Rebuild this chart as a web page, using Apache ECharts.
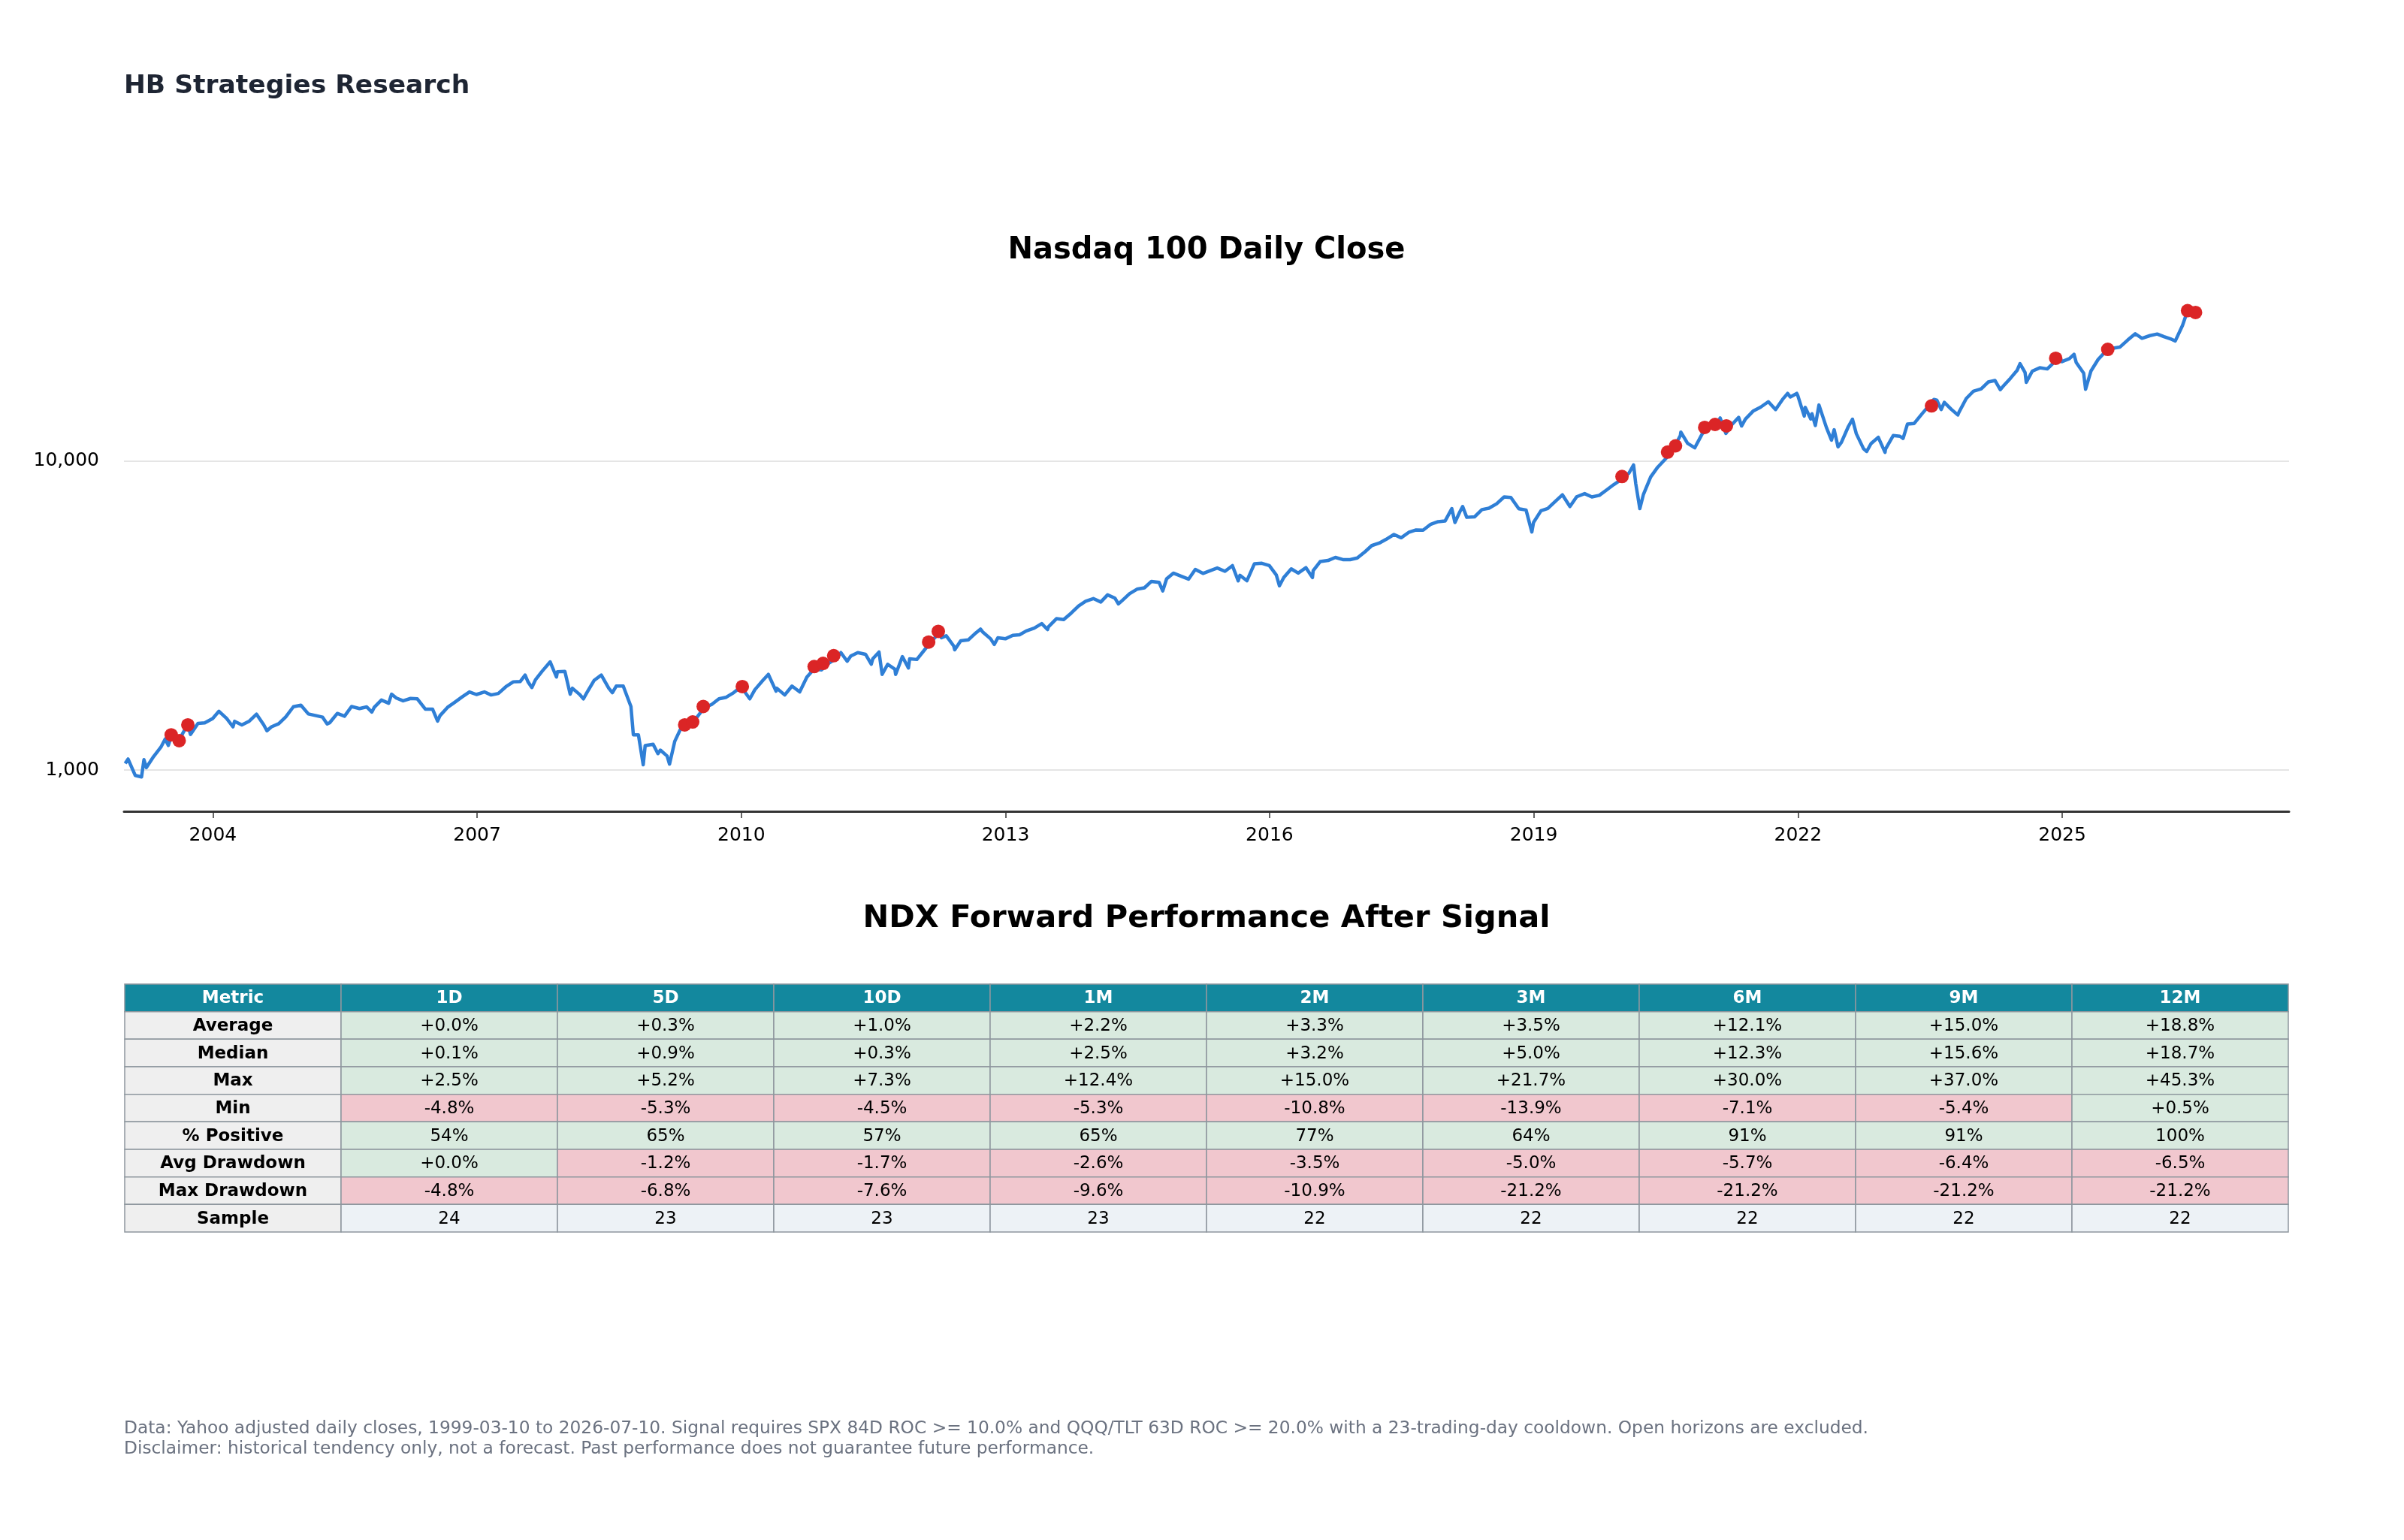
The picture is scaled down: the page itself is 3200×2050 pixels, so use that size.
<!DOCTYPE html>
<html>
<head>
<meta charset="utf-8">
<script src="https://cdn.jsdelivr.net/npm/echarts@6/dist/echarts.min.js"></script>
<style>
  html, body { margin: 0; padding: 0; background: #ffffff; }
  #chart { width: 3200px; height: 2050px; }
</style>
</head>
<body>
<div id="chart"></div>
<script>
// ---------------- DATA ----------------
// Nasdaq 100 closes [date, close]
const closeDates = [
'2003-01-02','2003-01-14','2003-02-13','2003-03-11','2003-03-21','2003-03-31','2003-04-30','2003-05-30','2003-06-17','2003-06-30',
'2003-07-14','2003-07-31','2003-08-11','2003-08-29','2003-09-18','2003-09-30','2003-10-31','2003-11-28','2003-12-31',
'2004-01-26','2004-02-27','2004-03-24','2004-03-31','2004-04-30','2004-05-31','2004-06-30','2004-07-30','2004-08-12','2004-08-31','2004-09-30','2004-10-29','2004-11-30','2004-12-31',
'2005-01-31','2005-02-28','2005-03-31','2005-04-19','2005-04-29','2005-05-31','2005-06-30','2005-07-29','2005-08-31','2005-09-30','2005-10-21','2005-10-31','2005-11-30','2005-12-30',
'2006-01-11','2006-01-31','2006-02-28','2006-03-31','2006-04-28','2006-05-31','2006-06-30','2006-07-21','2006-07-31','2006-08-31','2006-09-29','2006-10-31','2006-11-30','2006-12-29',
'2007-01-31','2007-02-28','2007-03-30','2007-04-30','2007-05-31','2007-06-29','2007-07-19','2007-07-31','2007-08-16','2007-08-31','2007-09-28','2007-10-31','2007-11-26','2007-11-30','2007-12-31',
'2008-01-22','2008-01-31','2008-02-29','2008-03-17','2008-03-31','2008-04-30','2008-05-30','2008-06-30','2008-07-15','2008-07-31','2008-08-29','2008-09-30','2008-10-10','2008-10-31','2008-11-20','2008-11-28','2008-12-31',
'2009-01-20','2009-01-30','2009-02-27','2009-03-09','2009-03-31','2009-04-30','2009-05-29','2009-06-30','2009-07-31','2009-08-31','2009-09-30','2009-10-30','2009-11-30','2009-12-31',
'2010-02-05','2010-02-26','2010-03-31','2010-04-23','2010-05-25','2010-05-28','2010-06-30','2010-07-30','2010-08-31','2010-09-30','2010-10-29','2010-11-30','2010-12-31',
'2011-01-31','2011-02-18','2011-03-16','2011-03-31','2011-04-29','2011-05-31','2011-06-24','2011-06-30','2011-07-26','2011-08-08','2011-08-31','2011-09-30','2011-10-03','2011-10-31','2011-11-25','2011-11-30','2011-12-30',
'2012-01-31','2012-02-29','2012-03-30','2012-04-10','2012-04-30','2012-05-31','2012-06-04','2012-06-29','2012-07-31','2012-08-31','2012-09-19','2012-09-28','2012-10-31','2012-11-15','2012-11-30','2012-12-31',
'2013-01-31','2013-02-28','2013-03-28','2013-04-30','2013-05-31','2013-06-24','2013-06-28','2013-07-31','2013-08-30','2013-09-30','2013-10-31','2013-11-29','2013-12-31',
'2014-01-31','2014-02-28','2014-03-31','2014-04-14','2014-04-30','2014-05-30','2014-06-30','2014-07-31','2014-08-29','2014-09-30','2014-10-15','2014-10-31','2014-11-28','2014-12-31',
'2015-01-30','2015-02-27','2015-03-31','2015-04-30','2015-05-29','2015-06-30','2015-07-31','2015-08-24','2015-08-31','2015-09-29','2015-10-30','2015-11-30','2015-12-31',
'2016-01-29','2016-02-11','2016-02-29','2016-03-31','2016-04-29','2016-05-31','2016-06-27','2016-06-30','2016-07-29','2016-08-31','2016-09-30','2016-10-31','2016-11-30','2016-12-30',
'2017-01-31','2017-02-28','2017-03-31','2017-04-28','2017-05-31','2017-06-30','2017-07-31','2017-08-31','2017-09-29','2017-10-31','2017-11-30','2017-12-29',
'2018-01-26','2018-02-08','2018-02-28','2018-03-12','2018-03-29','2018-04-30','2018-05-31','2018-06-29','2018-07-31','2018-08-31','2018-09-28','2018-10-31','2018-11-30','2018-12-24','2018-12-31',
'2019-01-31','2019-02-28','2019-03-29','2019-04-30','2019-05-31','2019-06-28','2019-07-31','2019-08-30','2019-09-30','2019-10-31','2019-11-29','2019-12-31',
'2020-01-31','2020-02-19','2020-02-28','2020-03-16','2020-03-31','2020-04-30','2020-05-29','2020-06-30','2020-07-31','2020-08-31','2020-09-02','2020-09-30','2020-10-30','2020-11-30','2020-12-31',
'2021-01-29','2021-02-12','2021-02-26','2021-03-08','2021-03-31','2021-04-30','2021-05-12','2021-05-28','2021-06-30','2021-07-30','2021-08-31','2021-09-30','2021-10-29','2021-11-19','2021-11-30','2021-12-27','2021-12-31',
'2022-01-27','2022-01-31','2022-02-23','2022-02-28','2022-03-14','2022-03-29','2022-04-29','2022-05-20','2022-05-31','2022-06-16','2022-06-30','2022-07-29','2022-08-15','2022-08-31','2022-09-30','2022-10-13','2022-10-31','2022-11-30','2022-12-28','2022-12-30',
'2023-01-31','2023-02-28','2023-03-13','2023-03-31','2023-04-28','2023-05-31','2023-06-30','2023-07-19','2023-07-31','2023-08-18','2023-08-31','2023-09-29','2023-10-26','2023-10-31','2023-11-30','2023-12-29',
'2024-01-31','2024-02-29','2024-03-28','2024-04-19','2024-04-30','2024-05-31','2024-06-28','2024-07-10','2024-07-31','2024-08-05','2024-08-30','2024-09-30','2024-10-31','2024-11-29','2024-12-16','2024-12-31',
'2025-01-31','2025-02-19','2025-02-28','2025-03-31','2025-04-08','2025-04-30','2025-05-30','2025-06-30','2025-07-31','2025-08-29','2025-09-30','2025-10-31','2025-11-28','2025-12-31',
'2026-01-30','2026-02-27','2026-03-31','2026-04-15','2026-05-15','2026-06-05','2026-07-10'
];
const closeValues = [
1050,1085,960,950,1080,1018,1106,1185,1260,1201,
1300,1263,1235,1315,1400,1304,1416,1421,1468,
1550,1468,1380,1438,1400,1440,1516,1400,1340,1380,1412,1485,1603,1621,
1519,1502,1483,1410,1421,1525,1494,1605,1581,1601,1540,1595,1685,1645,
1760,1710,1675,1705,1700,1575,1575,1440,1500,1595,1655,1725,1790,1756,
1790,1750,1770,1860,1930,1935,2030,1930,1850,1960,2090,2240,2000,2080,2085,
1760,1840,1760,1700,1780,1950,2030,1840,1780,1870,1870,1605,1300,1300,1040,1200,1212,
1130,1160,1110,1045,1240,1390,1440,1480,1590,1630,1700,1720,1780,1860,
1700,1820,1950,2040,1800,1840,1750,1870,1790,2000,2120,2110,2220,
2300,2400,2250,2340,2400,2370,2200,2290,2410,2040,2200,2120,2040,2330,2140,2290,2280,
2450,2620,2760,2680,2720,2520,2450,2620,2640,2780,2860,2800,2660,2550,2680,2660,
2730,2740,2820,2880,2980,2850,2910,3090,3070,3220,3400,3520,3590,
3500,3690,3600,3450,3540,3720,3850,3890,4080,4050,3800,4160,4340,4240,
4150,4460,4330,4420,4510,4400,4590,4100,4270,4100,4650,4670,4590,
4280,3950,4200,4480,4340,4520,4200,4420,4730,4770,4880,4800,4800,4860,
5090,5330,5430,5580,5790,5650,5880,5990,5980,6250,6370,6400,
7020,6330,6850,7130,6580,6600,6970,7040,7280,7660,7630,7010,6950,5900,6330,
6910,7030,7380,7780,7130,7670,7850,7660,7750,8080,8400,8730,
9150,9720,8460,7020,7810,8890,9560,10160,10900,12110,12420,11420,11050,12270,12890,
12930,13800,12910,12300,13090,13860,13000,13690,14550,14960,15580,14690,15850,16570,16140,16570,16320,
14000,14930,13700,14240,13050,15200,12850,11700,12640,11130,11500,12950,13670,12270,10970,10750,11400,11950,10680,10940,
12100,12040,11850,13180,13250,14250,15180,15840,15760,14700,15500,14720,14110,14410,15950,16830,
17140,18040,18250,17040,17440,18540,19680,20680,19360,17990,19570,20060,19890,20930,22100,21010,
21480,22180,20880,19280,17090,19570,21340,22680,23220,23420,24680,25860,25000,25500,
25800,25300,24800,24500,27500,30700,30300
];
// Signal dates and closes (red dots)
const signalDates = [
'2003-07-12','2003-08-14','2003-09-19','2009-05-11','2009-06-13','2009-07-27','2010-01-05',
'2010-10-30','2010-12-06','2011-01-19','2012-02-17','2012-03-28','2020-01-02','2020-07-09',
'2020-08-11','2020-12-10','2021-01-22','2021-03-10','2023-07-09','2024-12-05','2025-07-09',
'2026-06-05','2026-07-08'
];
const signalValues = [
1300,1245,1400,1400,1431,1606,1863,
2163,2214,2345,2596,2812,8920,10700,
11210,12860,13150,13010,15100,21540,23020,
30700,30300
];
// X-axis tick years
const xTickYears = [2004, 2007, 2010, 2013, 2016, 2019, 2022, 2025];

// Forward performance table
const horizons = ['1D','5D','10D','1M','2M','3M','6M','9M','12M'];
const metricNames = ['Average','Median','Max','Min','% Positive','Avg Drawdown','Max Drawdown','Sample'];
const avgRet    = [0.0, 0.3, 1.0, 2.2, 3.3, 3.5, 12.1, 15.0, 18.8];
const medianRet = [0.1, 0.9, 0.3, 2.5, 3.2, 5.0, 12.3, 15.6, 18.7];
const maxRet    = [2.5, 5.2, 7.3, 12.4, 15.0, 21.7, 30.0, 37.0, 45.3];
const minRet    = [-4.8, -5.3, -4.5, -5.3, -10.8, -13.9, -7.1, -5.4, 0.5];
const pctPositive = [54, 65, 57, 65, 77, 64, 91, 91, 100];
const avgDrawdown = [0.0, -1.2, -1.7, -2.6, -3.5, -5.0, -5.7, -6.4, -6.5];
const maxDrawdown = [-4.8, -6.8, -7.6, -9.6, -10.9, -21.2, -21.2, -21.2, -21.2];
const sampleSize  = [24, 23, 23, 23, 22, 22, 22, 22, 22];

// ---------------- BUILD ----------------
function ts(s) { const p = s.split('-').map(Number); return Date.UTC(p[0], p[1] - 1, p[2]); }
const lineData = closeDates.map((d, i) => [ts(d), closeValues[i]]);
const signalData = signalDates.map((d, i) => [ts(d), signalValues[i]]);
const xTicks = xTickYears.map(y => Date.UTC(y, 0, 1));

const FONT = 'DejaVu Sans';
const GREEN = '#d9eadf', RED = '#f1c7ce', GRAYC = '#efefef', SAMPLEC = '#edf2f6', HEAD = '#13889e', BORDER = '#8e979e';

const colNames = ['Metric'].concat(horizons);
const rowNames = ['header'].concat(metricNames);
function pct(v) { return (v >= 0 ? '+' : '') + v.toFixed(1) + '%'; }
const rowsData = [avgRet, medianRet, maxRet, minRet, pctPositive, avgDrawdown, maxDrawdown, sampleSize];
const cells = [];
colNames.forEach((c, ci) => cells.push({ v: [ci, 0], text: c, fill: HEAD, color: '#ffffff', weight: 'bold' }));
rowsData.forEach((arr, ri) => {
  const r = ri + 1;
  cells.push({ v: [0, r], text: metricNames[ri], fill: GRAYC, color: '#000000', weight: 'bold' });
  arr.forEach((val, hi) => {
    let text, fill;
    if (metricNames[ri] === 'Sample') { text = String(val); fill = SAMPLEC; }
    else if (metricNames[ri] === '% Positive') { text = val + '%'; fill = val >= 50 ? GREEN : RED; }
    else { text = pct(val); fill = val >= 0 ? GREEN : RED; }
    cells.push({ v: [hi + 1, r], text: text, fill: fill, color: '#000000', weight: 'normal' });
  });
});

const chart = echarts.init(document.getElementById('chart'), null, { renderer: 'canvas' });
const option = {
  backgroundColor: '#ffffff',
  animation: false,
  title: [
    { text: 'HB Strategies Research', left: 165, top: 98, padding: 0,
      textStyle: { fontFamily: FONT, fontSize: 34.5, fontWeight: 'bold', color: '#1e2533' } },
    { text: 'Nasdaq 100 Daily Close', left: 1606, top: 314, padding: 0, textAlign: 'center',
      textStyle: { fontFamily: FONT, fontSize: 40, fontWeight: 'bold', color: '#000000' } },
    { text: 'NDX Forward Performance After Signal', left: 1606, top: 1202, padding: 0, textAlign: 'center',
      textStyle: { fontFamily: FONT, fontSize: 41.5, fontWeight: 'bold', color: '#000000' } },
    { text: 'Data: Yahoo adjusted daily closes, 1999-03-10 to 2026-07-10. Signal requires SPX 84D ROC >= 10.0% and QQQ/TLT 63D ROC >= 20.0% with a 23-trading-day cooldown. Open horizons are excluded.\nDisclaimer: historical tendency only, not a forecast. Past performance does not guarantee future performance.',
      left: 165, top: 1888, padding: 0,
      textStyle: { fontFamily: FONT, fontSize: 23.3, fontWeight: 'normal', color: '#6b7280', lineHeight: 27 } }
  ],
  grid: [
    { left: 165, right: 153, top: 380, bottom: 970, containLabel: false },
    { left: 166, right: 154, top: 1310, height: 330, containLabel: false }
  ],
  xAxis: [
    { type: 'value', gridIndex: 0, scale: true,
      min: Date.UTC(2002, 11, 28), max: Date.UTC(2027, 6, 31),
      axisLine: { show: true, lineStyle: { color: '#333333', width: 3 } },
      axisTick: { show: true, customValues: xTicks, length: 9, lineStyle: { color: '#333333', width: 1.5 } },
      axisLabel: { show: true, customValues: xTicks, margin: 20, fontFamily: FONT, fontSize: 25, color: '#000000',
        formatter: v => String(new Date(v).getUTCFullYear()) },
      splitLine: { show: false }
    },
    { type: 'category', gridIndex: 1, data: colNames, show: false, boundaryGap: true }
  ],
  yAxis: [
    { type: 'log', gridIndex: 0, logBase: 10, min: 735, max: 37060,
      axisLine: { show: false }, axisTick: { show: false },
      axisLabel: { show: true, margin: 33, fontFamily: FONT, fontSize: 25, color: '#000000',
        showMinLabel: false, showMaxLabel: false,
        formatter: v => Math.round(v).toLocaleString('en-US') },
      splitLine: { show: true, showMinLine: false, showMaxLine: false, lineStyle: { color: '#e5e5e5', width: 2 } }
    },
    { type: 'category', gridIndex: 1, data: rowNames, inverse: true, show: false, boundaryGap: true }
  ],
  series: [
    { type: 'line', xAxisIndex: 0, yAxisIndex: 0, data: lineData, showSymbol: false, symbol: 'none',
      lineStyle: { color: '#2f7fd6', width: 4.5, join: 'round' }, z: 2, silent: true },
    { type: 'scatter', xAxisIndex: 0, yAxisIndex: 0, data: signalData, symbol: 'circle', symbolSize: 18,
      itemStyle: { color: '#db2526', opacity: 1 }, z: 3, silent: true },
    { type: 'custom', xAxisIndex: 1, yAxisIndex: 1, silent: true,
      data: cells.map(c => c.v),
      renderItem: function (params, api) {
        const c = cells[params.dataIndex];
        const center = api.coord([api.value(0), api.value(1)]);
        const size = api.size([1, 1]);
        const w = size[0], h = size[1];
        return { type: 'group', children: [
          { type: 'rect', shape: { x: center[0] - w / 2, y: center[1] - h / 2, width: w, height: h },
            style: { fill: c.fill, stroke: BORDER, lineWidth: 1.5 } },
          { type: 'text', style: { text: c.text, x: center[0], y: center[1] + 1, align: 'center', verticalAlign: 'middle',
            fill: c.color, fontFamily: FONT, fontSize: 23, fontWeight: c.weight } }
        ] };
      }
    }
  ]
};
chart.setOption(option);
</script>
</body>
</html>
